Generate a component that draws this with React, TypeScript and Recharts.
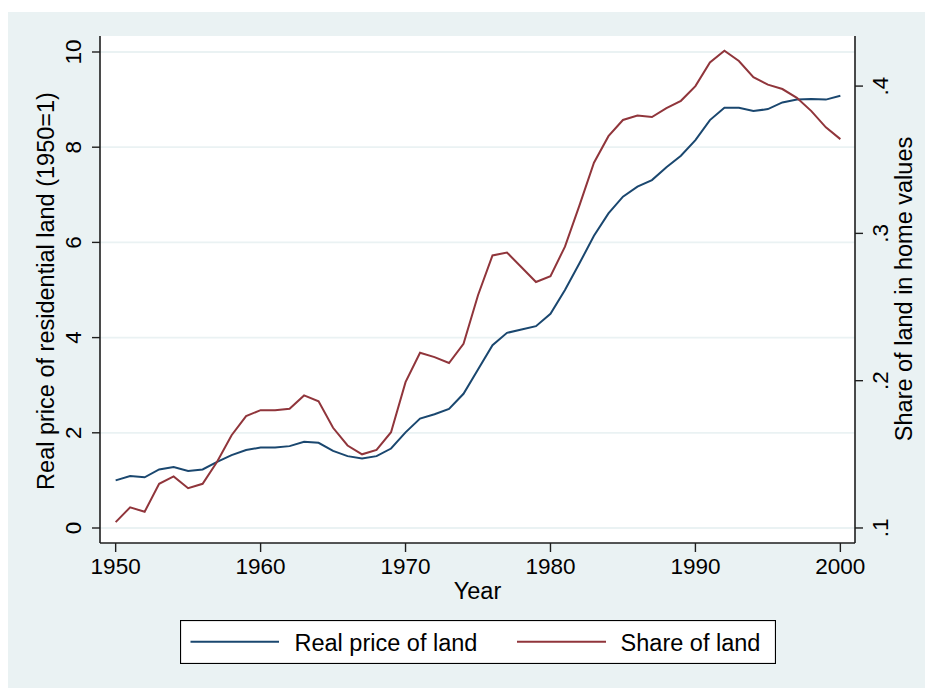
import React from "react";
import { LineChart, Line, XAxis, YAxis, CartesianGrid, Legend } from "recharts";

const years = [
  1950, 1951, 1952, 1953, 1954, 1955, 1956, 1957, 1958, 1959,
  1960, 1961, 1962, 1963, 1964, 1965, 1966, 1967, 1968, 1969,
  1970, 1971, 1972, 1973, 1974, 1975, 1976, 1977, 1978, 1979,
  1980, 1981, 1982, 1983, 1984, 1985, 1986, 1987, 1988, 1989,
  1990, 1991, 1992, 1993, 1994, 1995, 1996, 1997, 1998, 1999, 2000,
];

const landPrice = [
  1.0, 1.09, 1.065, 1.23, 1.28, 1.2, 1.23, 1.39, 1.53, 1.64,
  1.69, 1.69, 1.72, 1.81, 1.79, 1.62, 1.51, 1.46, 1.51, 1.67,
  2.01, 2.3, 2.39, 2.5, 2.82, 3.33, 3.84, 4.1, 4.17, 4.24,
  4.5, 5.0, 5.56, 6.14, 6.61, 6.96, 7.17, 7.31, 7.58, 7.82,
  8.15, 8.57, 8.83, 8.83, 8.76, 8.8, 8.94, 9.0, 9.01, 9.0, 9.08,
];

const landShare = [
  0.104, 0.114, 0.111, 0.13, 0.135, 0.127, 0.13, 0.145, 0.163, 0.176,
  0.18, 0.18, 0.181, 0.19, 0.186, 0.168, 0.156, 0.15, 0.153, 0.165,
  0.199, 0.219, 0.216, 0.212, 0.225, 0.258, 0.285, 0.287, 0.277, 0.267,
  0.271, 0.291, 0.319, 0.348, 0.366, 0.377, 0.38, 0.379, 0.385, 0.39,
  0.4, 0.416, 0.424, 0.417, 0.406, 0.401, 0.398, 0.392, 0.383, 0.372, 0.364,
];

const xTicks = [1950, 1960, 1970, 1980, 1990, 2000];
const leftTicks = [0, 2, 4, 6, 8, 10];
const rightTicks = [0.1, 0.2, 0.3, 0.4];

const seriesNames = ["Real price of land", "Share of land"];
const leftTitle = "Real price of residential land (1950=1)";
const rightTitle = "Share of land in home values";
const xTitle = "Year";

const data = years.map((y, i) => ({ year: y, price: landPrice[i], share: landShare[i] }));

const BLUE = "#1a476f";
const RED = "#90353b";
const BG = "#eaf2f3";
const AXIS = "#1e1e1e";
const FONT = "'Liberation Sans', Arial, sans-serif";
const TICK_FS = 22.5;
const TITLE_FS = 23.5;

const fmtShare = (v: number) => {
  const s = v.toFixed(1);
  return s.startsWith("0") ? s.slice(1) : s;
};

const XTick = (props: any) => {
  const { x, payload } = props;
  return (
    <text x={x} y={562} textAnchor="middle" fontFamily={FONT} fontSize={TICK_FS} fill="#000">
      {payload.value}
    </text>
  );
};

const LeftTick = (props: any) => {
  const { y, payload } = props;
  return (
    <text
      transform={`translate(73, ${y}) rotate(-90)`}
      textAnchor="middle"
      fontFamily={FONT}
      fontSize={TICK_FS}
      fill="#000"
    >
      {payload.value}
    </text>
  );
};

const RightTick = (props: any) => {
  const { y, payload } = props;
  return (
    <text
      transform={`translate(880, ${y}) rotate(-90)`}
      textAnchor="middle"
      fontFamily={FONT}
      fontSize={TICK_FS}
      fill="#000"
    >
      {fmtShare(payload.value)}
    </text>
  );
};

const LegendBox = () => (
  <svg width={596} height={44} style={{ display: "block" }}>
    <rect x={0.5} y={0.5} width={595} height={43} fill="#fff" stroke="#000" strokeWidth={1.2} />
    <line x1={10.5} x2={99} y1={21.7} y2={21.7} stroke={BLUE} strokeWidth={2} />
    <text x={114.5} y={30.7} fontFamily={FONT} fontSize={TITLE_FS} fill="#000">
      {seriesNames[0]}
    </text>
    <line x1={337} x2={426} y1={21.7} y2={21.7} stroke={RED} strokeWidth={2} />
    <text x={440.6} y={30.7} fontFamily={FONT} fontSize={TITLE_FS} fill="#000">
      {seriesNames[1]}
    </text>
  </svg>
);

export default function App() {
  return (
    <div style={{ paddingTop: 4 }}>
      <div style={{ width: 925, height: 676, background: BG, position: "relative" }}>
        <LineChart
          width={925}
          height={676}
          data={data}
          margin={{ top: 24, right: 0, bottom: 85, left: 0 }}
        >
          <CartesianGrid
            yAxisId="left"
            vertical={false}
            fill="#ffffff"
            stroke={BG}
            strokeWidth={1.8}
            horizontalValues={leftTicks}
          />
          <XAxis
            dataKey="year"
            type="number"
            domain={[1948.92, 2001.01]}
            allowDataOverflow
            ticks={xTicks}
            height={60}
            tickSize={9}
            axisLine={{ stroke: AXIS, strokeWidth: 1.6 }}
            tickLine={{ stroke: AXIS, strokeWidth: 1.4 }}
            tick={<XTick />}
            label={(p: any) => (
              <text x={469.5} y={587} textAnchor="middle" fontFamily={FONT} fontSize={TITLE_FS} fill="#000">
                {xTitle}
              </text>
            )}
          />
          <YAxis
            yAxisId="left"
            orientation="left"
            width={92}
            domain={[-0.315, 10.336]}
            allowDataOverflow
            ticks={leftTicks}
            tickSize={8}
            axisLine={{ stroke: AXIS, strokeWidth: 1.6 }}
            tickLine={{ stroke: AXIS, strokeWidth: 1.4 }}
            tick={<LeftTick />}
            label={(p: any) => (
              <text
                transform={`translate(46, 279) rotate(-90)`}
                textAnchor="middle"
                fontFamily={FONT}
                fontSize={TITLE_FS}
                fill="#000"
              >
                {leftTitle}
              </text>
            )}
          />
          <YAxis
            yAxisId="right"
            orientation="right"
            width={78}
            domain={[0.0898, 0.434]}
            allowDataOverflow
            ticks={rightTicks}
            tickSize={8}
            axisLine={{ stroke: AXIS, strokeWidth: 1.6 }}
            tickLine={{ stroke: AXIS, strokeWidth: 1.4 }}
            tick={<RightTick />}
            label={(p: any) => (
              <text
                transform={`translate(904, 277) rotate(-90)`}
                textAnchor="middle"
                fontFamily={FONT}
                fontSize={TITLE_FS}
                fill="#000"
              >
                {rightTitle}
              </text>
            )}
          />
          <Line
            yAxisId="left"
            type="linear"
            dataKey="price"
            name={seriesNames[0]}
            stroke={BLUE}
            strokeWidth={2}
            dot={false}
            isAnimationActive={false}
          />
          <Line
            yAxisId="right"
            type="linear"
            dataKey="share"
            name={seriesNames[1]}
            stroke={RED}
            strokeWidth={2}
            dot={false}
            isAnimationActive={false}
          />
          <Legend
            layout="horizontal"
            verticalAlign="middle"
            align="center"
            wrapperStyle={{ left: 172, top: 608, width: 596, height: 44 }}
            content={() => <LegendBox />}
          />
        </LineChart>
      </div>
    </div>
  );
}
